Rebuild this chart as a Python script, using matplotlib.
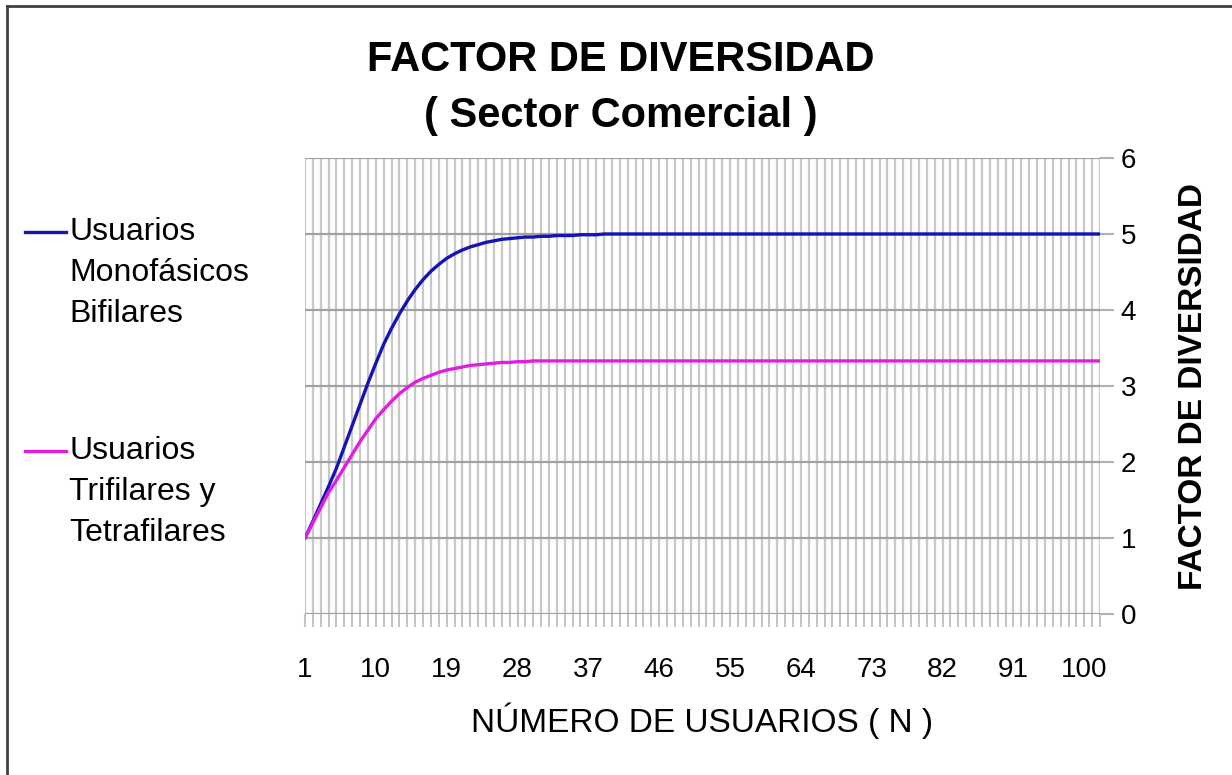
import numpy as np
import matplotlib.pyplot as plt
from matplotlib.lines import Line2D

plt.rcParams['font.family'] = ['Liberation Sans', 'DejaVu Sans']

# numero de usuarios N = 1..102
usuarios = np.arange(1, 103)

# factor de diversidad, usuarios monofasicos bifilares
fd_mono = [1.00, 1.22, 1.45, 1.68, 1.92, 2.20, 2.48, 2.76, 3.04, 3.30,
           3.55, 3.76, 3.95, 4.12, 4.27, 4.40, 4.51, 4.60, 4.68, 4.74,
           4.79, 4.83, 4.86, 4.89, 4.91, 4.93, 4.94, 4.95, 4.96, 4.96,
           4.97, 4.97, 4.98, 4.98, 4.98, 4.99, 4.99, 4.99, 5.00, 5.00,
           5.00, 5.00, 5.00, 5.00, 5.00, 5.00, 5.00, 5.00, 5.00, 5.00,
           5.00, 5.00, 5.00, 5.00, 5.00, 5.00, 5.00, 5.00, 5.00, 5.00,
           5.00, 5.00, 5.00, 5.00, 5.00, 5.00, 5.00, 5.00, 5.00, 5.00,
           5.00, 5.00, 5.00, 5.00, 5.00, 5.00, 5.00, 5.00, 5.00, 5.00,
           5.00, 5.00, 5.00, 5.00, 5.00, 5.00, 5.00, 5.00, 5.00, 5.00,
           5.00, 5.00, 5.00, 5.00, 5.00, 5.00, 5.00, 5.00, 5.00, 5.00,
           5.00, 5.00]

# factor de diversidad, usuarios trifilares y tetrafilares
fd_tri = [1.00, 1.20, 1.40, 1.60, 1.76, 1.93, 2.10, 2.27, 2.42, 2.57,
          2.69, 2.80, 2.90, 2.98, 3.05, 3.10, 3.14, 3.18, 3.21, 3.23,
          3.25, 3.27, 3.28, 3.29, 3.30, 3.31, 3.31, 3.32, 3.32, 3.33,
          3.33, 3.33, 3.33, 3.33, 3.33, 3.33, 3.33, 3.33, 3.33, 3.33,
          3.33, 3.33, 3.33, 3.33, 3.33, 3.33, 3.33, 3.33, 3.33, 3.33,
          3.33, 3.33, 3.33, 3.33, 3.33, 3.33, 3.33, 3.33, 3.33, 3.33,
          3.33, 3.33, 3.33, 3.33, 3.33, 3.33, 3.33, 3.33, 3.33, 3.33,
          3.33, 3.33, 3.33, 3.33, 3.33, 3.33, 3.33, 3.33, 3.33, 3.33,
          3.33, 3.33, 3.33, 3.33, 3.33, 3.33, 3.33, 3.33, 3.33, 3.33,
          3.33, 3.33, 3.33, 3.33, 3.33, 3.33, 3.33, 3.33, 3.33, 3.33,
          3.33, 3.33]

etiquetas = ["Usuarios\nMonofásicos\nBifilares",
             "Usuarios\nTrifilares y\nTetrafilares"]
colores = ['#1414b4', '#e01ee0']

fig = plt.figure(figsize=(12.32, 7.75), dpi=100)
ax = fig.add_axes([305 / 1232, 1 - 614 / 775, 795 / 1232, 456 / 775])

ax.plot(usuarios, fd_mono, color=colores[0], lw=2.4, zorder=3)
ax.plot(usuarios, fd_tri, color=colores[1], lw=2.4, zorder=3)

ax.set_xlim(usuarios[0], usuarios[-1])
ax.set_ylim(0, 6)

# una linea de rejilla por cada usuario, etiqueta cada 9
ax.set_xticks(usuarios)
ax.set_xticklabels([str(n) if (n - 1) % 9 == 0 else '' for n in usuarios])
ax.set_yticks(range(7))

ax.yaxis.tick_right()
ax.yaxis.set_label_position('right')
ax.tick_params(axis='x', length=9, width=1.5, color='#c4c4c4',
               labelsize=20, pad=22)
ax.tick_params(axis='y', length=10, width=1.5, color='#b0b0b0',
               labelsize=20, pad=5)

ax.grid(axis='x', color='#c8c8c8', lw=1.6)
ax.grid(axis='y', color='#a0a0a0', lw=1.6)
ax.set_axisbelow(True)
for s in ax.spines.values():
    s.set_visible(False)

ax.set_xlabel('NÚMERO DE USUARIOS ( N )', fontsize=24, labelpad=14)
ax.set_ylabel('FACTOR DE DIVERSIDAD', fontsize=24, fontweight='bold',
              labelpad=30)

fig.text(0.504, 1 - 60 / 775, 'FACTOR DE DIVERSIDAD', ha='center',
         va='center', fontsize=30, fontweight='bold')
fig.text(0.504, 1 - 116 / 775, '( Sector Comercial )', ha='center',
         va='center', fontsize=30, fontweight='bold')

# leyenda a la izquierda, linea a la altura de la primera linea de texto
for etiqueta, color, ytop in zip(etiquetas, colores, [217, 436]):
    yl = 1 - (ytop + 15) / 775
    fig.add_artist(Line2D([25 / 1232, 66 / 1232], [yl, yl], color=color,
                          lw=2.4, transform=fig.transFigure))
    fig.text(69 / 1232, 1 - ytop / 775, etiqueta, ha='left', va='top',
             fontsize=23, linespacing=1.48)

# marco del grafico (solo borde superior e izquierdo)
fig.add_artist(Line2D([7 / 1232, 7 / 1232], [0, 1 - 6 / 775],
                      color='#404040', lw=2, transform=fig.transFigure))
fig.add_artist(Line2D([7 / 1232, 1], [1 - 6 / 775, 1 - 6 / 775],
                      color='#404040', lw=2, transform=fig.transFigure))

fig.savefig('out.png', dpi=100)
